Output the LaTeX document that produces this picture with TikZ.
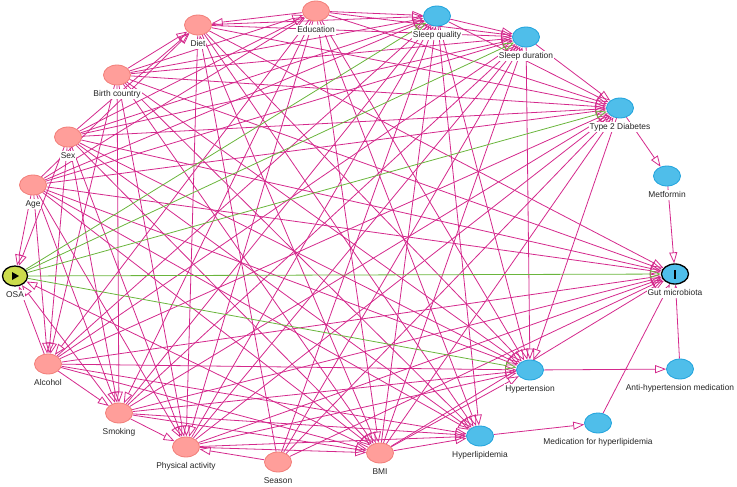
\documentclass[tikz,border=0pt]{standalone}
\usepackage{fontspec}
\setmainfont{Liberation Sans}
\usetikzlibrary{arrows.meta,shapes.geometric}
\definecolor{dagPink}{HTML}{FF9E9A}
\definecolor{dagPinkLine}{HTML}{F27C77}
\definecolor{dagBlue}{HTML}{4FBEEA}
\definecolor{dagBlueLine}{HTML}{1EA2DC}
\definecolor{dagExpo}{HTML}{CCDC4C}
\definecolor{dagEdge}{HTML}{D4298C}
\definecolor{dagCausal}{HTML}{6AB53C}
\pgfdeclarelayer{background}
\pgfsetlayers{background,main}

\begin{document}
\begin{tikzpicture}[x=1pt, y=-1pt,
    conf/.style={ellipse, draw=dagPinkLine, fill=dagPink, line width=0.8pt,
      minimum width=27pt, minimum height=20pt, inner sep=0pt},
    med/.style={conf, draw=dagBlueLine, fill=dagBlue},
    expo/.style={conf, draw=black, fill=dagExpo, line width=1.3pt},
    outc/.style={conf, draw=black, fill=dagBlue, line width=1.3pt},
    lbl/.style={fill=white, inner sep=1pt, text height=6.3pt, text depth=1.8pt,
      font=\fontsize{8.4}{10}\selectfont, text=black!85},
    every label/.style={lbl}, label distance=3.5pt,
    edge/.style={-{Triangle[open, length=11pt, width=8pt]}, line width=0.8pt, dagEdge},
    causal/.style={edge, dagCausal}]
  \useasboundingbox (0,0) rectangle (737,487);
  % variables
  \node[conf, label=below:Diet] (diet) at (198,25) {};
  \node[conf, label=below:Education] (edu) at (316,11) {};
  \node[med, label=below:Sleep quality] (sleepq) at (437,16) {};
  \node[med, label=below:Sleep duration] (sleepd) at (526,37) {};
  \node[conf, label=below:Birth country] (birth) at (117,75) {};
  \node[med, label=below:Type 2 Diabetes] (tdm) at (620,108) {};
  \node[conf, label=below:Sex] (sex) at (68,137) {};
  \node[conf, label=below:Age] (age) at (33,185) {};
  \node[med, label=below:Metformin] (metf) at (667,176) {};
  \node[expo, minimum width=25pt, label=below:OSA] (osa) at (15,276) {};
  \node[outc, label=below:Gut microbiota] (gut) at (675,274) {};
  \node[conf, label=below:Alcohol] (alc) at (48,364) {};
  \node[med, label=below:Hypertension] (hyper) at (530,370) {};
  \node[med, label=below:Anti-hypertension medication] (antihyp) at (680,369) {};
  \node[conf, label=below:Smoking] (smok) at (119,413) {};
  \node[med, label=below:Hyperlipidemia] (hyperlip) at (480,436) {};
  \node[med, label=below:Medication for hyperlipidemia] (medlip) at (598,423) {};
  \node[conf, label=below:Physical activity] (phys) at (186,447) {};
  \node[conf, label=below:Season] (season) at (278,462) {};
  \node[conf, label=below:BMI] (bmi) at (380,453) {};
  % exposure and outcome marks
  \fill (osa.center) ++(-3,-4) -- ++(7,4) -- ++(-7,4) -- cycle;
  \fill (gut.center) ++(-1.3,-4.5) rectangle ++(2.6,9);

  \begin{pgfonlayer}{background}
  % age
  \draw[edge] (age) -- (osa);
  \draw[edge] (age) -- (diet);
  \draw[edge] (age) -- (edu);
  \draw[edge] (age) -- (alc);
  \draw[edge] (age) -- (smok);
  \draw[edge] (age) -- (phys);
  \draw[edge] (age) -- (bmi);
  \draw[edge] (age) -- (sleepq);
  \draw[edge] (age) -- (sleepd);
  \draw[edge] (age) -- (tdm);
  \draw[edge] (age) -- (hyper);
  \draw[edge] (age) -- (hyperlip);
  \draw[edge] (age) -- (gut);
  % sex
  \draw[edge] (sex) -- (osa);
  \draw[edge] (sex) -- (diet);
  \draw[edge] (sex) -- (edu);
  \draw[edge] (sex) -- (alc);
  \draw[edge] (sex) -- (smok);
  \draw[edge] (sex) -- (phys);
  \draw[edge] (sex) -- (bmi);
  \draw[edge] (sex) -- (sleepq);
  \draw[edge] (sex) -- (sleepd);
  \draw[edge] (sex) -- (tdm);
  \draw[edge] (sex) -- (hyper);
  \draw[edge] (sex) -- (hyperlip);
  \draw[edge] (sex) -- (gut);
  % birth country
  \draw[edge] (birth) -- (diet);
  \draw[edge] (birth) -- (edu);
  \draw[edge] (birth) -- (alc);
  \draw[edge] (birth) -- (smok);
  \draw[edge] (birth) -- (phys);
  \draw[edge] (birth) -- (bmi);
  \draw[edge] (birth) -- (sleepq);
  \draw[edge] (birth) -- (sleepd);
  \draw[edge] (birth) -- (tdm);
  \draw[edge] (birth) -- (hyper);
  \draw[edge] (birth) -- (hyperlip);
  \draw[edge] (birth) -- (gut);
  % education
  \draw[edge] (edu) -- (diet);
  \draw[edge] (edu) -- (alc);
  \draw[edge] (edu) -- (smok);
  \draw[edge] (edu) -- (phys);
  \draw[edge] (edu) -- (bmi);
  \draw[edge] (edu) -- (sleepq);
  \draw[edge] (edu) -- (sleepd);
  \draw[edge] (edu) -- (tdm);
  \draw[edge] (edu) -- (hyper);
  \draw[edge] (edu) -- (hyperlip);
  % diet
  \draw[edge] (diet) -- (phys);
  \draw[edge] (diet) -- (bmi);
  \draw[edge] (diet) -- (sleepq);
  \draw[edge] (diet) -- (sleepd);
  \draw[edge] (diet) -- (tdm);
  \draw[edge] (diet) -- (hyper);
  \draw[edge] (diet) -- (hyperlip);
  \draw[edge] (diet) -- (gut);
  % alcohol
  \draw[edge] (alc) -- (osa);
  \draw[edge] (alc) -- (smok);
  \draw[edge] (alc) -- (bmi);
  \draw[edge] (alc) -- (sleepq);
  \draw[edge] (alc) -- (sleepd);
  \draw[edge] (alc) -- (tdm);
  \draw[edge] (alc) -- (hyper);
  \draw[edge] (alc) -- (hyperlip);
  \draw[edge] (alc) -- (gut);
  % smoking
  \draw[edge] (smok) -- (osa);
  \draw[edge] (smok) -- (phys);
  \draw[edge] (smok) -- (bmi);
  \draw[edge] (smok) -- (sleepq);
  \draw[edge] (smok) -- (sleepd);
  \draw[edge] (smok) -- (tdm);
  \draw[edge] (smok) -- (hyper);
  \draw[edge] (smok) -- (hyperlip);
  \draw[edge] (smok) -- (gut);
  % physical activity
  \draw[edge] (phys) -- (bmi);
  \draw[edge] (phys) -- (sleepq);
  \draw[edge] (phys) -- (sleepd);
  \draw[edge] (phys) -- (tdm);
  \draw[edge] (phys) -- (hyper);
  \draw[edge] (phys) -- (hyperlip);
  \draw[edge] (phys) -- (gut);
  % season
  \draw[edge] (season) -- (diet);
  \draw[edge] (season) -- (phys);
  \draw[edge] (season) -- (sleepq);
  \draw[edge] (season) -- (sleepd);
  \draw[edge] (season) -- (tdm);
  \draw[edge] (season) -- (gut);
  % bmi
  \draw[edge] (bmi) -- (osa);
  \draw[edge] (bmi) -- (sleepq);
  \draw[edge] (bmi) -- (sleepd);
  \draw[edge] (bmi) -- (tdm);
  \draw[edge] (bmi) -- (hyper);
  \draw[edge] (bmi) -- (hyperlip);
  \draw[edge] (bmi) -- (gut);
  % mediators and medication
  \draw[edge] (sleepq) -- (sleepd);
  \draw[edge] (sleepq) -- (tdm);
  \draw[edge] (sleepq) -- (hyper);
  \draw[edge] (sleepq) -- (hyperlip);
  \draw[edge] (sleepd) -- (tdm);
  \draw[edge] (sleepd) -- (hyper);
  \draw[edge] (tdm) -- (hyper);
  \draw[edge] (tdm) -- (metf);
  \draw[edge] (metf) -- (gut);
  \draw[edge] (hyper) -- (antihyp);
  \draw[edge] (antihyp) -- (gut);
  \draw[edge] (hyperlip) -- (medlip);
  \draw[edge] (medlip) -- (gut);
  % causal paths from OSA
  \draw[causal] (osa) -- (sleepq);
  \draw[causal] (osa) -- (sleepd);
  \draw[causal] (osa) -- (tdm);
  \draw[causal] (osa) -- (gut);
  \draw[causal] (osa) -- (hyper);
  \end{pgfonlayer}
\end{tikzpicture}
\end{document}
